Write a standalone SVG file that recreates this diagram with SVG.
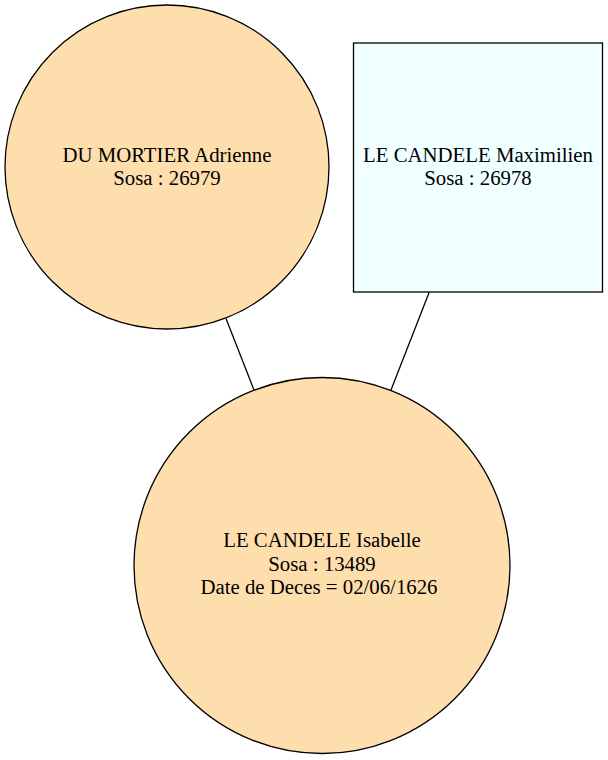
<svg xmlns="http://www.w3.org/2000/svg" width="608" height="760" viewBox="0 0 608 760">
<style>
.node { stroke: #000; stroke-width: 1.3; }
.f { fill: #ffdead; }
.m { fill: #f0ffff; }
.edge { stroke: #000; stroke-width: 1.3; fill: none; }
text { font-family: "Liberation Serif", "Times New Roman", serif; font-size: 20.8px; fill: #000; text-anchor: middle; }
</style>
<rect width="608" height="760" fill="#fff"/>
<g id="edges">
<line class="edge" x1="226" y1="318.5" x2="254" y2="390"/>
<line class="edge" x1="429.3" y1="292" x2="391" y2="390"/>
</g>
<g id="node-26979">
<circle class="node f" cx="167" cy="167" r="162"/>
<text x="167" y="162">DU MORTIER Adrienne</text>
<text x="167" y="185">Sosa : 26979</text>
</g>
<g id="node-26978">
<rect class="node m" x="353.5" y="43" width="249" height="249"/>
<text x="478" y="162">LE CANDELE Maximilien</text>
<text x="478" y="185">Sosa : 26978</text>
</g>
<g id="node-13489">
<circle class="node f" cx="322" cy="565.5" r="188"/>
<text x="322" y="547">LE CANDELE Isabelle</text>
<text x="322" y="570.5">Sosa : 13489</text>
<text x="319" y="594">Date de Deces = 02/06/1626</text>
</g>
</svg>
